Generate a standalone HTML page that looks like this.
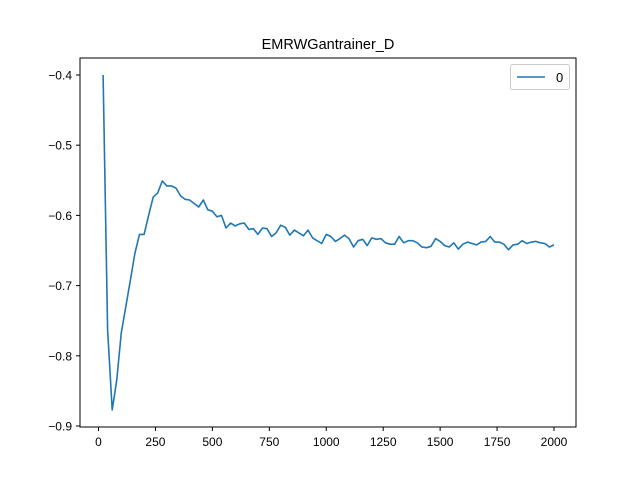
<!DOCTYPE html>
<html><head><meta charset="utf-8"><style>body{margin:0;background:#fff}svg{font-family:"Liberation Sans","DejaVu Sans",sans-serif}</style></head>
<body>
<svg id="chart" width="640" height="480">
<rect width="640" height="480" fill="#fff"/>
<text x="328" y="49" font-size="14.5" text-anchor="middle">EMRWGantrainer_D</text>
<g id="ticks"></g>
<path id="line" fill="none" stroke="#1f77b4" stroke-width="1.6" stroke-linejoin="round"/>
<rect x="80" y="58" width="496" height="369" fill="none" stroke="#000" stroke-width="1"/>
<g>
<rect x="510.5" y="64.5" width="59" height="25" rx="2" fill="#fff" stroke="#ccc"/>
<line x1="517" y1="77" x2="545" y2="77" stroke="#1f77b4" stroke-width="1.6"/>
<text x="556" y="82" font-size="13">0</text>
</g>
</svg>
<script>
const xTicks=[0,250,500,750,1000,1250,1500,1750,2000];
const yTicks=[-0.4,-0.5,-0.6,-0.7,-0.8,-0.9];
const yVals=[-0.400,-0.763,-0.877,-0.835,-0.767,-0.730,-0.692,-0.654,-0.627,-0.627,
-0.600,-0.574,-0.568,-0.551,-0.558,-0.558,-0.561,-0.572,-0.577,-0.578,
-0.583,-0.588,-0.578,-0.592,-0.594,-0.602,-0.600,-0.618,-0.611,-0.615,
-0.612,-0.611,-0.620,-0.619,-0.627,-0.618,-0.619,-0.630,-0.625,-0.614,
-0.617,-0.628,-0.621,-0.625,-0.629,-0.621,-0.632,-0.636,-0.640,-0.627,
-0.630,-0.637,-0.633,-0.628,-0.633,-0.645,-0.636,-0.634,-0.643,-0.632,
-0.634,-0.633,-0.639,-0.641,-0.641,-0.630,-0.639,-0.636,-0.636,-0.639,
-0.645,-0.646,-0.644,-0.633,-0.637,-0.643,-0.645,-0.639,-0.648,-0.641,
-0.638,-0.640,-0.642,-0.638,-0.637,-0.630,-0.638,-0.638,-0.641,-0.649,
-0.642,-0.641,-0.636,-0.640,-0.638,-0.637,-0.639,-0.640,-0.645,-0.642];
const xVals=yVals.map((_,i)=>20*(i+1));
const sx=v=>98.5+(v/2000)*455.5;
const sy=v=>75+(-0.4-v)*702;
const NS="http://www.w3.org/2000/svg";
const g=document.getElementById('ticks');
function mk(t,a){const e=document.createElementNS(NS,t);for(const k in a)e.setAttribute(k,a[k]);g.appendChild(e);return e;}
xTicks.forEach(v=>{const x=sx(v);
const l=mk('line',{x1:x,y1:427,x2:x,y2:431,stroke:'#000'});


const t=mk('text',{x:x,y:446,'font-size':12,'text-anchor':'middle'});t.textContent=v;

});
yTicks.forEach(v=>{const y=sy(v);
const l=mk('line',{x1:76,y1:y,x2:80,y2:y,stroke:'#000'});


const t=mk('text',{x:72,y:y+4.5,'font-size':12,'text-anchor':'end'});t.textContent='\u2212'+Math.abs(v).toFixed(1);

});
document.getElementById('line').setAttribute('d',yVals.map((v,i)=>(i?'L':'M')+sx(xVals[i]).toFixed(1)+','+sy(v).toFixed(1)).join(''));
</script>
</body></html>
